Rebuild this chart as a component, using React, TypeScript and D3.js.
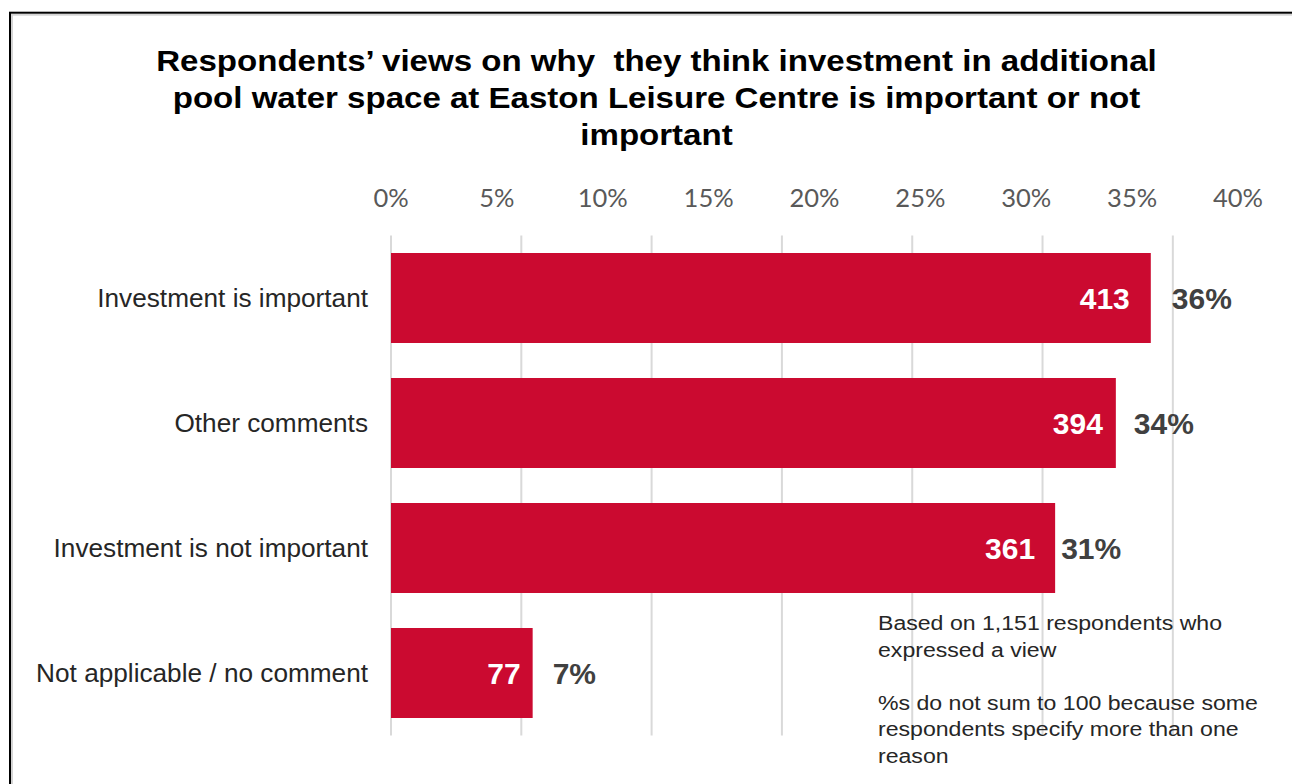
import React from "react";
import * as d3 from "d3";

const categories = [
  "Investment is important",
  "Other comments",
  "Investment is not important",
  "Not applicable / no comment",
];
const counts = [413, 394, 361, 77];
const totalRespondents = 1151;
const pctLabels = ["36%", "34%", "31%", "7%"];
const xTicks = [0, 0.05, 0.1, 0.15, 0.2, 0.25, 0.3, 0.35, 0.4];
const gridTicks = [0, 100, 200, 300, 400, 500, 600];
const gridMax = 650;
const titleLines = [
  "Respondents\u2019 views on why  they think investment in additional",
  "pool water space at Easton Leisure Centre is important or not",
  "important",
];
const noteLines = [
  "Based on 1,151 respondents who",
  "expressed a view",
  "",
  "%s do not sum to 100 because some",
  "respondents specify more than one",
  "reason",
];

// layout / style tweaks (not data)
const countGap = [21, 13, 20, 12];
const pctGap = [21, 18, 6, 20];

const W = 1292;
const H = 784;
const left = 391;
const right = 1238;
const top = 235.5;
const bottom = 735.5;
const barColor = "#CB0A30";
const font = "'Liberation Sans', Arial, sans-serif";

export default function App() {
  const x = d3.scaleLinear().domain([0, 0.4]).range([left, right]);
  const xg = d3.scaleLinear().domain([0, gridMax]).range([left, right]);
  const y = d3
    .scaleBand<string>()
    .domain(categories)
    .range([top, bottom])
    .paddingInner(0.28)
    .paddingOuter(0.14);
  const bw = y.bandwidth();
  const fmt = d3.format(".0%");

  return (
    <svg
      width={W}
      height={H}
      style={{ position: "absolute", left: 0, top: 0, background: "#fff" }}
    >
      <rect x={0} y={0} width={W} height={H} fill="#fff" />
      {/* frame */}
      <rect x={12} y={14.7} width={1400} height={900} fill="none" stroke="#d4d4d4" strokeWidth={2} />
      <rect x={10} y={12.7} width={1400} height={900} fill="none" stroke="#000" strokeWidth={2} />

      {/* title */}
      {titleLines.map((t, i) => (
        <g key={i} transform={`translate(656.5, ${71 + i * 37}) scale(1.14, 1)`}>
          <text
            x={0}
            y={0}
            textAnchor="middle"
            fontFamily={font}
            fontWeight="bold"
            fontSize={29}
            fill="#000"
            style={{ whiteSpace: "pre" }}
          >
            {t}
          </text>
        </g>
      ))}

      {/* x tick labels */}
      {xTicks.map((t) => (
        <text
          key={t}
          x={x(t)}
          y={207}
          textAnchor="middle"
          fontFamily="Lato, 'Open Sans', sans-serif"
          fontSize={25.5}
          fill="#595959"
        >
          {fmt(t)}
        </text>
      ))}

      {/* gridlines */}
      {gridTicks.map((g) => (
        <line
          key={g}
          x1={xg(g)}
          x2={xg(g)}
          y1={top}
          y2={bottom}
          stroke="#d9d9d9"
          strokeWidth={2}
        />
      ))}

      {/* bars */}
      {categories.map((c, i) => {
        const v = counts[i] / totalRespondents;
        const y0 = y(c)!;
        const cy = y0 + bw / 2;
        const xe = x(v);
        return (
          <g key={c}>
            <rect x={x(0)} y={y0} width={xe - x(0)} height={bw} fill={barColor} />
            <text
              x={xe - countGap[i]}
              y={cy + 10.5}
              textAnchor="end"
              fontFamily={font}
              fontWeight="bold"
              fontSize={30}
              fill="#fff"
            >
              {counts[i]}
            </text>
            <text
              x={xe + pctGap[i]}
              y={cy + 10.5}
              textAnchor="start"
              fontFamily={font}
              fontWeight="bold"
              fontSize={30}
              fill="#404040"
            >
              {pctLabels[i]}
            </text>
            <text
              x={368}
              y={cy + 9}
              textAnchor="end"
              fontFamily={font}
              fontSize={26.2}
              fill="#262626"
            >
              {c}
            </text>
          </g>
        );
      })}

      {/* note */}
      {noteLines.map((t, i) =>
        t ? (
          <g key={i} transform={`translate(878, ${630 + i * 26.6}) scale(1.1, 1)`}>
            <text x={0} y={0} fontFamily={font} fontSize={21} fill="#262626">
              {t}
            </text>
          </g>
        ) : null
      )}
    </svg>
  );
}
